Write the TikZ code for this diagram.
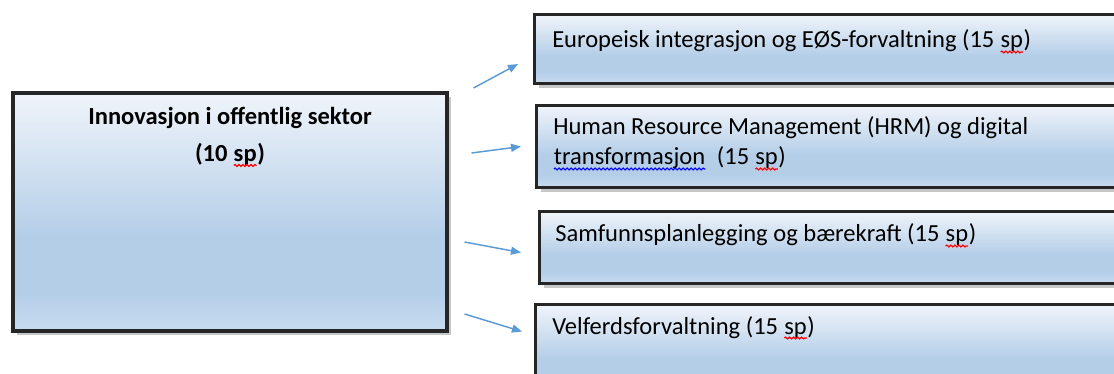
\documentclass[tikz,border=0pt]{standalone}
\usepackage{fontspec}
\setmainfont{Carlito}
\usetikzlibrary{arrows.meta,positioning,shadows,decorations.pathmorphing}

\definecolor{boxtop}{HTML}{F0F4FA}
\definecolor{boxmid}{HTML}{B4CEE8}
\definecolor{boxbot}{HTML}{C8DBEF}
\definecolor{edgegray}{HTML}{262626}
\definecolor{flowblue}{HTML}{5B9BD5}

\pgfdeclareverticalshading{boxfill}{100bp}{color(0bp)=(boxbot); color(25bp)=(boxbot); color(33bp)=(boxmid); color(45bp)=(boxmid); color(75bp)=(boxtop); color(100bp)=(boxtop)}

% spell-check squiggles
\newcommand\squiggle[2]{\tikz[baseline=(sq.base), x=1cm, y=1cm]{%
    \node[anchor=base, inner sep=0pt, outer sep=0pt] (sq) {#2};
    \draw[#1, line width=0.9pt, decorate, decoration={snake, amplitude=0.7pt, segment length=3pt}]
        ([yshift=-3pt]sq.base west) -- ([yshift=-3pt]sq.base east);}}
\newcommand\redwave[1]{\squiggle{red}{#1}}
\newcommand\bluewave[1]{\squiggle{blue}{#1}}

\tikzset{
  coursebox/.style={draw=edgegray, line width=2.3pt, shading=boxfill, inner sep=0pt,
    drop shadow={shadow xshift=3pt, shadow yshift=-3pt, opacity=.4, fill=black!55}},
  coursetext/.style={anchor=base west, inner sep=0pt, align=left, font=\fontsize{18.4}{22.5}\selectfont},
  flow/.style={draw=flowblue, line width=1.1pt, -{Triangle[length=7.5pt,width=6pt]}}
}

\begin{document}
\begin{tikzpicture}[x=0.75pt, y=-0.75pt]

    \useasboundingbox (0,0) rectangle (1114,374);
    \fill[white] (0,0) rectangle (1114,374);

    % Main course
    \node[coursebox, minimum width={434*0.75pt}, minimum height={238*0.75pt}] (innov) at (230,212) {};
    \node[anchor=base, inner sep=0pt, align=center, font=\bfseries\fontsize{18.4}{28}\selectfont]
        (innovtitle) at ([shift={(0,70)}]innov.north) {Innovasjon i offentlig sektor\\(10 \redwave{sp})};

    % Elective courses
    \node[coursebox, anchor=north west, minimum width={600*0.75pt}, minimum height={69*0.75pt}] (euro) at (533,13) {};
    \node[coursetext] (eurotext) at ([shift={(19,35)}]euro.north west)
        {Europeisk integrasjon og EØS-forvaltning (15 \redwave{sp})};

    \node[coursebox, anchor=north west, minimum width={600*0.75pt}, minimum height={82*0.75pt}] (hrm) at (535,104) {};
    \node[coursetext] (hrmtext) at ([shift={(18,61)}]hrm.north west)
        {Human Resource Management (HRM) og digital\\\bluewave{transformasjon}\ \ (15 \redwave{sp})};

    \node[coursebox, anchor=north west, minimum width={600*0.75pt}, minimum height={72*0.75pt}] (samf) at (538,210) {};
    \node[coursetext] (samftext) at ([shift={(17,32)}]samf.north west)
        {Samfunnsplanlegging og bærekraft (15 \redwave{sp})};

    \node[coursebox, anchor=north west, minimum width={600*0.75pt}, minimum height={90*0.75pt}] (velf) at (534,303) {};
    \node[coursetext] (velftext) at ([shift={(18,31)}]velf.north west)
        {Velferdsforvaltning (15 \redwave{sp})};

    % Arrows
    \coordinate (tail1) at ([shift={(25,-124)}]innov.east);
    \coordinate (tail2) at ([shift={(23,-59)}]innov.east);
    \coordinate (tail3) at ([shift={(16,30)}]innov.east);
    \coordinate (tail4) at ([shift={(16,102)}]innov.east);
    \draw[flow] (tail1) -- ([shift={(-15,15)}]euro.west);
    \draw[flow] (tail2) -- ([shift={(-14,0)}]hrm.west);
    \draw[flow] (tail3) -- ([shift={(-17,5)}]samf.west);
    \draw[flow] (tail4) -- ([shift={(-12,-18)}]velf.west);

\end{tikzpicture}
\end{document}
